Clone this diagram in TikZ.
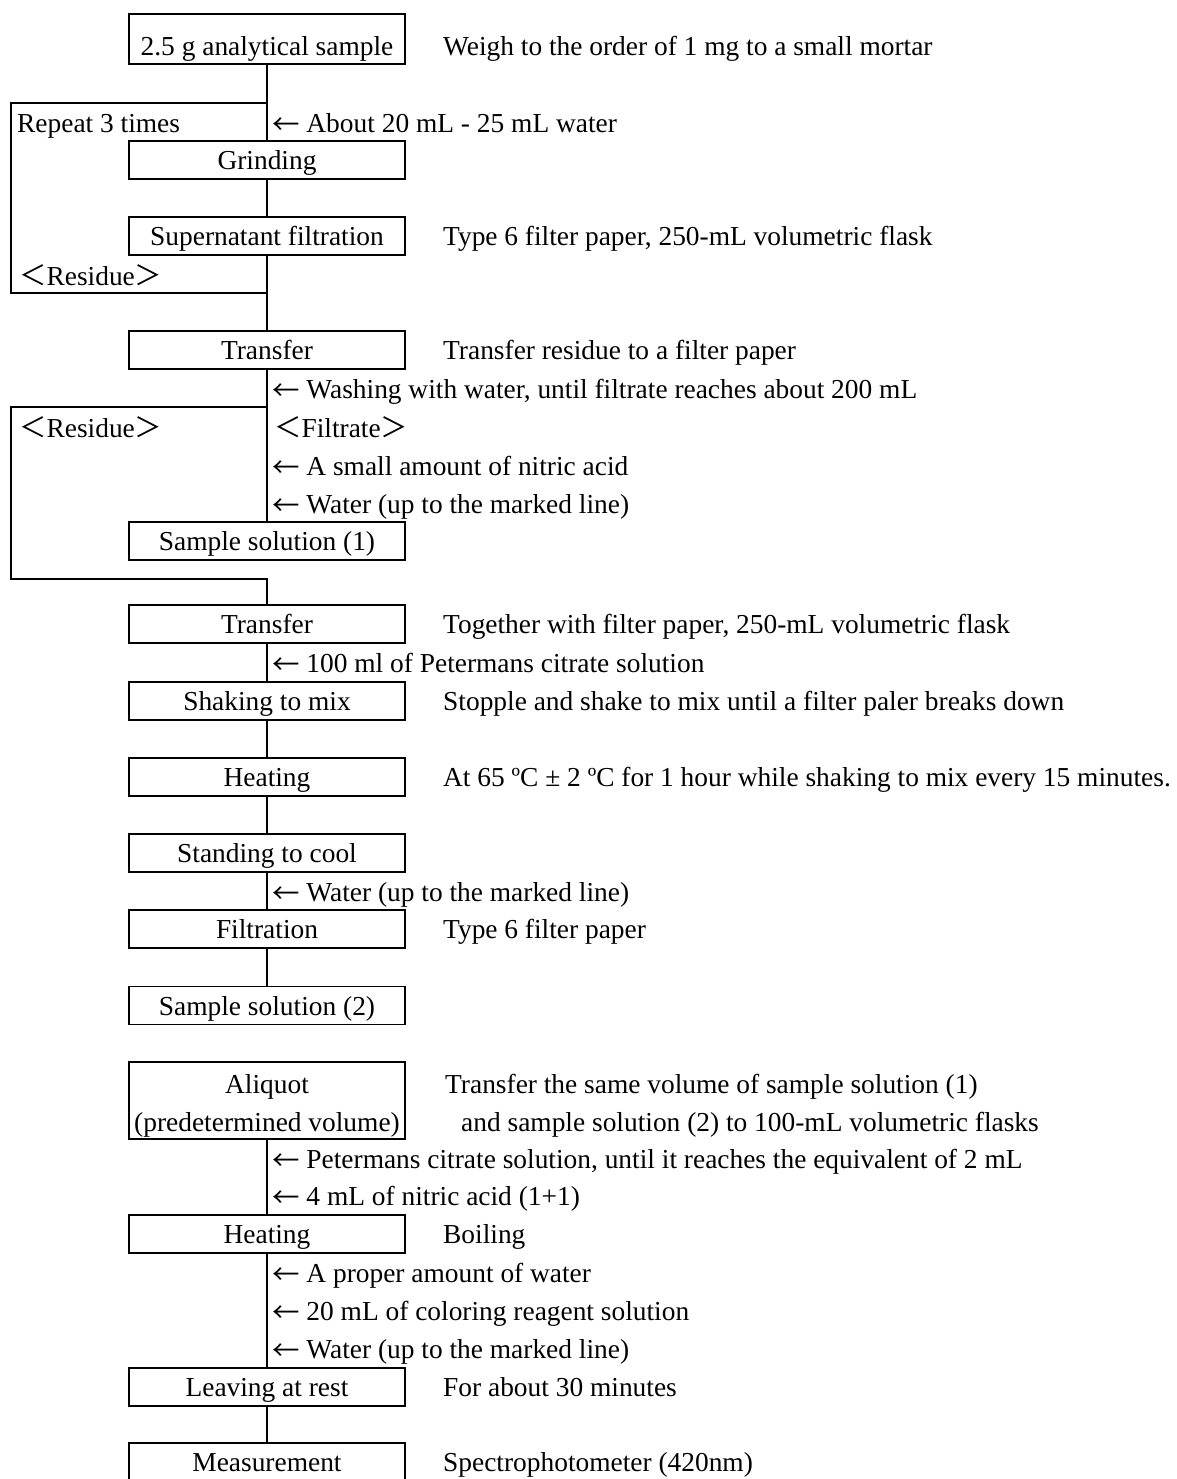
\documentclass[tikz,border=0pt]{standalone}
\usepackage{fontspec}
\setmainfont{Liberation Serif}
\newfontfamily\cjkfont{Noto Sans CJK JP}
\newcommand{\lbrk}{{\cjkfont ＜}}
\newcommand{\rbrk}{{\cjkfont ＞}}
\newcommand{\larr}{\raisebox{-2pt}{\cjkfont ←}}
\begin{document}
\begin{tikzpicture}[x=1pt,y=-1pt,
  every node/.style={font=\fontsize{27.4}{38}\selectfont, inner sep=0pt},
  box/.style={draw, line width=1.9pt, minimum width=276pt, minimum height=38pt, text height=22pt, text depth=2.8pt},
  desc/.style={anchor=base west},
  conn/.style={line width=1.9pt, line join=miter},
]
\useasboundingbox (0,0) rectangle (1176,1479);
% boxes
\node[box, minimum height=50pt, text height=40pt, text depth=6pt] (b1) at (267,39) {2.5 g analytical sample};
\node[box] (grind) at (267,160) {Grinding};
\node[box] (super) at (267,236) {Supernatant filtration};
\node[box] (trans1) at (267,350) {Transfer};
\node[box] (ss1) at (267,541) {Sample solution (1)};
\node[box] (trans2) at (267,624) {Transfer};
\node[box] (shake) at (267,701) {Shaking to mix};
\node[box] (heat1) at (267,777) {Heating};
\node[box] (cool) at (267,853) {Standing to cool};
\node[box] (filt) at (267,929) {Filtration};
\node[box] (ss2) at (267,1005.5) {Sample solution (2)};
\node[box, minimum height=77pt] (aliq) at (267,1100.5) {};
\node[anchor=base] (aliqA) at (267,1093.5) {Aliquot};
\node[anchor=base] (aliqB) at (267,1131.5) {(predetermined volume)};
\node[box] (heat2) at (267,1234) {Heating};
\node[box] (rest) at (267,1387) {Leaving at rest};
\node[box] (meas) at (267,1462) {Measurement};
% descriptions
\node[desc] (d1) at (443,56) {Weigh to the order of 1 mg to a small mortar};
\node[desc] (d2) at (443,245.6) {Type 6 filter paper, 250-mL volumetric flask};
\node[desc] (d3) at (443,359.6) {Transfer residue to a filter paper};
\node[desc] (d4) at (443,633.6) {Together with filter paper, 250-mL volumetric flask};
\node[desc] (d5) at (443,710.6) {Stopple and shake to mix until a filter paler breaks down};
\node[desc] (d6) at (443,786.6) {At 65 ºC ± 2 ºC for 1 hour while shaking to mix every 15 minutes.};
\node[desc] (d7) at (443,938.6) {Type 6 filter paper};
\node[desc] (d8) at (445,1093.5) {Transfer the same volume of sample solution (1)};
\node[desc] (d9) at (461,1131.5) {and sample solution (2) to 100-mL volumetric flasks};
\node[desc] (d10) at (443,1243.6) {Boiling};
\node[desc] (d11) at (443,1396.6) {For about 30 minutes};
\node[desc] (d12) at (443,1471.6) {Spectrophotometer (420nm)};
% additions
\node[desc] (a1) at (272,132.5) {\larr{} About 20 mL - 25 mL water};
\node[desc] (a2) at (272,398.5) {\larr{} Washing with water, until filtrate reaches about 200 mL};
\node[desc] (f1) at (274,437.5) {\lbrk Filtrate\rbrk};
\node[desc] (a3) at (272,475.5) {\larr{} A small amount of nitric acid};
\node[desc] (a4) at (272,513.5) {\larr{} Water (up to the marked line)};
\node[desc] (a5) at (272,672.5) {\larr{} 100 ml of Petermans citrate solution};
\node[desc] (a6) at (272,901.5) {\larr{} Water (up to the marked line)};
\node[desc] (a7) at (272,1168.5) {\larr{} Petermans citrate solution, until it reaches the equivalent of 2 mL};
\node[desc] (a8) at (272,1205.5) {\larr{} 4 mL of nitric acid (1+1)};
\node[desc] (a9) at (272,1282.5) {\larr{} A proper amount of water};
\node[desc] (a10) at (272,1320.5) {\larr{} 20 mL of coloring reagent solution};
\node[desc] (a11) at (272,1358.5) {\larr{} Water (up to the marked line)};
% left labels
\node[desc] (rep) at (17,132.5) {Repeat 3 times};
\node[desc] (res1) at (19,285.5) {\lbrk Residue\rbrk};
\node[desc] (res2) at (19,437.5) {\lbrk Residue\rbrk};
% loop coordinates
\coordinate (l1t) at (267,103);
\coordinate (l1tl) at (11,103);
\coordinate (l1bl) at (11,293);
\coordinate (l1b) at (267,293);
\coordinate (l2t) at (267,407);
\coordinate (l2tl) at (11,407);
\coordinate (l2bl) at (11,579);
\coordinate (l2b) at (267,579);
% connectors
\draw[conn] (b1.south) -- (grind.north);
\draw[conn] (grind.south) -- (super.north);
\draw[conn] (super.south) -- (trans1.north);
\draw[conn] (l1t) -- (l1tl) -- (l1bl) -- (l1b);
\draw[conn] (trans1.south) -- (ss1.north);
\draw[conn] (l2t) -- (l2tl) -- (l2bl) -- (l2b) -- (trans2.north);
\draw[conn] (trans2.south) -- (shake.north);
\draw[conn] (shake.south) -- (heat1.north);
\draw[conn] (heat1.south) -- (cool.north);
\draw[conn] (cool.south) -- (filt.north);
\draw[conn] (filt.south) -- (ss2.north);
\draw[conn] (aliq.south) -- (heat2.north);
\draw[conn] (heat2.south) -- (rest.north);
\draw[conn] (rest.south) -- (meas.north);
\end{tikzpicture}
\end{document}
